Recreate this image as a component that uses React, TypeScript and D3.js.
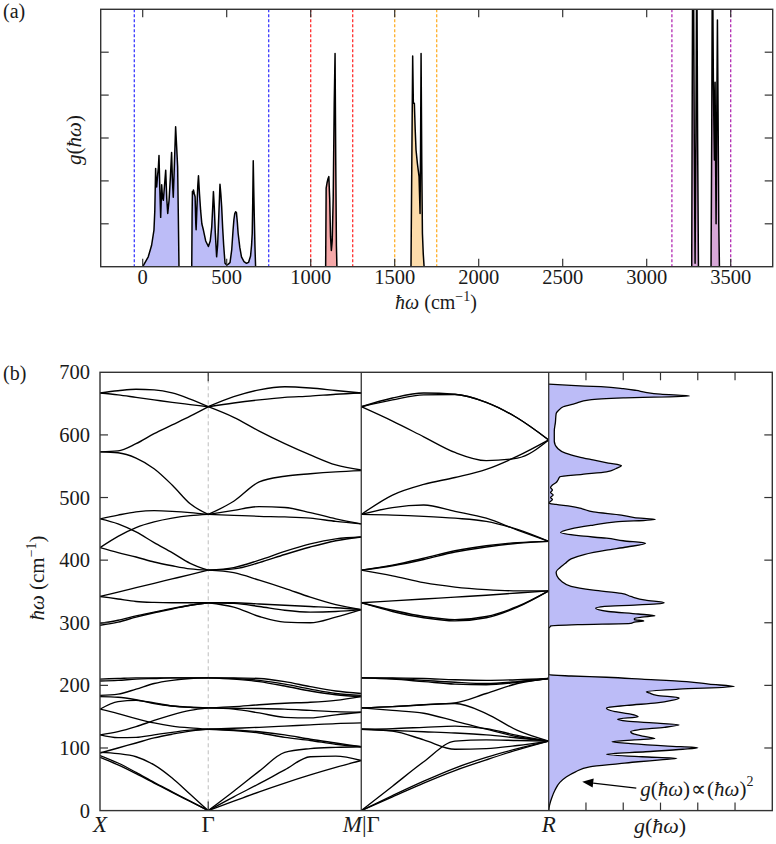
import React from "react";
import * as d3 from "d3";

// ---------------- Panel (a): full phonon DOS ----------------
const aXTicks = [0, 500, 1000, 1500, 2000, 2500, 3000, 3500];
const aYTicks = [1, 2, 3, 4, 5];
const windowLo = [-50, 1000, 1500, 3150];
const windowHi = [750, 1250, 1750, 3500];
const windowColors = ["#3a3aff", "#ff2e2e", "#ffb02a", "#b22ab2"];
const fillColors = ["#bcbcf7", "#f5a8a8", "#fcdcaa", "#d7a7d7"];

const aBlueW = [0, 33, 53, 67, 72, 77, 80, 83, 88, 93, 97, 102, 107, 110, 113, 118, 123, 130, 137, 143, 149, 153, 157, 165, 172, 177, 182, 188, 196, 202, 208, 212, 216,
  292, 294, 296, 299, 302, 307, 312, 316, 318, 323, 328, 332, 338, 345, 352, 361, 375, 391, 402, 411, 417, 421, 426, 432, 440, 446, 452, 457, 460, 465, 470, 476, 482, 490,
  500, 510, 520, 530, 538, 543, 548, 553, 558, 563, 568, 578, 588, 603, 618, 630, 642, 648, 652, 655, 658, 661, 664, 668, 672];
const aBlueG = [0, 0.23, 0.5, 0.85, 1.3, 2.29, 1.9, 1.86, 2.1, 2.3, 2.59, 1.8, 1.15, 1.5, 1.91, 1.6, 1.55, 1.9, 2.25, 1.6, 1.24, 1.4, 1.55, 2.1, 2.66, 2.0, 1.62, 2.3, 3.26, 2.8, 2.33, 1.2, 0,
  0, 1.2, 1.75, 1.7, 1.79, 1.7, 1.63, 1.0, 0.86, 1.4, 1.9, 2.12, 1.7, 1.3, 1.0, 0.86, 0.6, 0.47, 0.6, 0.93, 1.4, 1.75, 1.4, 0.8, 0.23, 0.5, 1.1, 1.6, 1.92, 1.7, 1.4, 0.9, 0.5, 0.08,
  0.04, 0.06, 0.1, 0.4, 0.86, 1.1, 1.24, 1.28, 1.26, 1.05, 0.78, 0.45, 0.23, 0.12, 0.08, 0.1, 0.25, 0.5, 0.78, 1.5, 2.47, 1.8, 1.2, 0.5, 0];
const aRedW = [1089, 1092, 1097, 1103, 1108, 1113, 1118, 1123, 1128, 1134, 1140, 1145, 1149, 1153, 1156];
const aRedG = [0, 1.83, 1.95, 2.05, 2.1, 1.6, 0.7, 0.38, 0.6, 1.6, 3.8, 4.97, 2.5, 0.5, 0];
const aOrangeW = [1597, 1602, 1607, 1611, 1617, 1622, 1627, 1635, 1645, 1651, 1654, 1657, 1661, 1665, 1670, 1675];
const aOrangeG = [0, 2.5, 4.91, 3.81, 3.81, 3.2, 2.72, 2.41, 2.1, 1.24, 2.8, 4.97, 2.5, 0.78, 0.3, 0];
const aPurpleW = [3268, 3271, 3274, 3278, 3283, 3288, 3293, 3298, 3303, 3308,
  3383, 3387, 3391, 3394, 3397, 3400, 3403, 3405, 3407, 3410, 3413, 3417, 3421, 3425, 3429, 3433];
const aPurpleG = [0, 4, 7.5, 7.5, 3, 0.08, 3, 7.5, 3, 0,
  0, 3, 7.5, 6, 4.27, 3.3, 2.49, 3.5, 4.3, 2.5, 1.0, 3.5, 5.75, 3.5, 1.0, 0];

// ---------------- Panel (b): dispersion + DOS ----------------
const bYTicks = [0, 100, 200, 300, 400, 500, 600, 700];
const segLengths = [0.5, 0.7071, 0.866]; // X-Γ, Γ-M, Γ-R (2π/a)
const kGrid = [0, 0.1667, 0.3333, 0.5, 0.6667, 0.8333, 1];

// X -> Γ
const bandsXG = [
  [667, 670.5, 673, 672, 667, 657, 645],
  [667, 664, 660, 656, 652, 648.5, 645],
  [573, 574.5, 586, 602, 616, 630, 645],
  [573, 571.5, 563, 546, 520, 490, 473],
  [466, 472, 477, 479, 478, 476, 473],
  [420, 438, 452, 461, 467, 471, 473],
  [466, 458, 445, 428, 412, 395, 384],
  [420, 412, 405, 397, 391, 386, 384],
  [342, 349, 356, 363, 370, 377, 384],
  [342, 338, 334, 332.5, 332, 332, 332],
  [299, 304, 311, 317, 323, 328, 332],
  [296, 301, 309, 316, 322, 328, 332],
  [210, 211, 212, 212, 212, 212, 212],
  [207, 208, 210, 211, 212, 212, 212],
  [184, 186, 194, 203, 208, 211, 212],
  [182, 181, 177, 171, 167, 165, 164],
  [162, 174, 176, 172, 167, 165, 164],
  [162, 155, 147, 140, 135, 132, 130],
  [121, 126, 134, 144, 153, 160, 164],
  [121, 116.5, 117, 121, 125, 128.5, 130],
  [92, 100, 108, 116, 122, 127, 130],
  [93, 91, 86, 73, 52, 26, 0],
  [88, 76, 61, 45, 30, 15, 0],
  [85, 73, 59, 44, 29, 14.5, 0],
];
// Γ -> M
const bandsGM = [
  [645, 661, 672, 677, 675, 671, 667],
  [645, 651, 656, 660, 662, 665, 667],
  [645, 628, 606, 586, 568, 552, 544],
  [473, 494, 525, 534, 538, 541, 543],
  [473, 479.5, 485.5, 484, 476, 466, 458],
  [473, 471.5, 470, 469, 467, 462, 458],
  [384, 388, 400, 414, 426, 434, 437],
  [384, 386, 396, 409, 421, 431, 437],
  [384, 380, 368, 355, 341, 329, 321],
  [332, 325, 310, 301, 300, 309, 321],
  [332, 331, 326, 320, 317, 318, 321],
  [332, 332, 330, 328, 326, 324, 321],
  [212, 212, 211, 206, 198, 191, 187],
  [212, 211, 208, 202, 194, 187, 184],
  [212, 210, 206, 199, 191, 185, 182],
  [164, 166, 169, 171.5, 173, 176, 182],
  [164, 162, 156, 149, 148, 153, 157],
  [130, 131.5, 133, 135, 137, 139, 140],
  [164, 163.5, 163, 162, 160, 158, 157],
  [130, 128, 124, 117, 112, 106, 102],
  [130, 129, 126, 121, 114, 108, 102],
  [0, 31, 63, 93, 99, 101, 102],
  [0, 22, 43, 65, 86, 87, 80],
  [0, 15, 30, 44, 57, 69, 80],
];
// Γ -> R
const bandsGR = [
  [645, 659, 667, 665, 652, 627, 592],
  [645, 656, 664, 664.5, 652, 627, 592],
  [645, 622, 597, 572, 559, 563, 592],
  [473, 504, 521, 532, 545, 566, 592],
  [473, 484, 488, 478, 467, 448, 430],
  [473, 472, 470, 467, 462, 449, 430],
  [384, 392, 403, 415, 423, 428, 430],
  [384, 391, 401, 413, 421, 427, 430],
  [384, 375, 364, 357, 353, 351, 351],
  [332, 335, 338, 341, 344, 347.5, 351],
  [332, 320, 310, 305, 310, 326, 351],
  [332, 318, 308, 303, 308, 325, 351],
  [212, 212, 211, 209, 208, 209, 211],
  [212, 211, 208, 205, 203, 206, 211],
  [212, 210, 206, 202, 201, 205, 211],
  [164, 166, 169, 172, 187, 203, 211],
  [164, 160, 155.5, 143, 130, 118, 111],
  [164, 166, 169, 171, 155, 128, 111],
  [130, 131, 133, 135, 131, 120, 111],
  [130, 127, 113, 98, 99, 104, 111],
  [130, 128, 126, 124, 121, 116, 111],
  [0, 39, 78, 111, 113, 112, 111],
  [0, 24, 47, 68, 85, 99, 111],
  [0, 22, 44, 64, 81, 97, 111],
];

// DOS of panel (b)
const dosW = [0, 8, 20, 33, 45, 54, 62, 70, 75, 78, 81, 83.5, 86, 90, 94, 98, 100.5, 103, 107, 110, 113, 115, 118, 122, 126, 129, 133, 137, 140, 143, 146, 150, 154, 158, 161, 164, 168, 172, 176, 180, 184, 188, 190, 194, 198, 202, 206, 210, 213, 215, 217,
  291, 293, 295, 297, 299, 301, 303, 305, 307, 309, 311, 314, 318, 323, 326, 328, 330, 332, 336, 342, 347, 352, 358, 366, 375, 381, 388, 395, 402, 409, 416, 421, 427, 431, 435, 439, 444, 450, 456, 461, 465, 468, 472, 477, 482, 486, 489, 491,
  494, 497, 500, 504, 508, 512, 516, 520, 524, 528, 533, 537, 541, 546, 551, 555, 560, 565, 571, 578, 590, 606, 620, 634, 640, 645, 650, 656, 659, 662, 665, 668, 671, 674, 677, 679, 681];
const dosG = [0, 0.02, 0.08, 0.17, 0.3, 0.48, 0.72, 1.1, 1.9, 2.4, 3.0, 3.44, 2.5, 1.55, 2.6, 3.6, 4.0, 3.2, 2.2, 1.7, 2.3, 2.85, 2.6, 2.3, 2.2, 2.4, 3.1, 3.5, 2.8, 2.1, 1.85, 2.4, 2.2, 1.8, 1.6, 1.55, 2.1, 2.9, 3.3, 3.5, 2.9, 2.7, 2.62, 3.5, 4.98, 4.3, 3.7, 2.5, 1.55, 0.6, 0,
  0, 0.03, 0.06, 0.8, 2.2, 2.3, 2.55, 2.3, 2.3, 2.5, 2.85, 2.4, 1.6, 1.26, 1.5, 2.3, 2.9, 3.1, 2.6, 2.2, 1.95, 1.2, 0.6, 0.35, 0.22, 0.2, 0.3, 0.45, 0.6, 0.95, 1.55, 2.1, 2.6, 2.0, 1.55, 0.8, 0.32, 0.6, 1.2, 1.8, 2.86, 2.3, 1.95, 1.2, 0.9, 0.6, 0.2, 0,
  0.05, 0.1, 0.05, 0.12, 0.05, 0.1, 0.05, 0.1, 0.2, 0.25, 0.3, 0.9, 1.55, 1.8, 1.95, 1.6, 1.19, 0.8, 0.45, 0.25, 0.15, 0.15, 0.18, 0.2, 0.28, 0.39, 0.7, 1.1, 2.0, 3.78, 3.0, 2.6, 2.35, 2.0, 1.4, 0.6, 0];
const dosTicks = [1, 2, 3, 4, 5];

const SERIF = "'Liberation Serif', 'Times New Roman', serif";
const INK = "#1a1a1a";
const FRAME = "#333";

function Ghw() {
  return (
    <>
      <tspan fontStyle="italic">g</tspan>
      <tspan>(</tspan>
      <tspan fontStyle="italic">ħω</tspan>
      <tspan>)</tspan>
    </>
  );
}

export default function App() {
  // Panel (a) geometry
  const aL = 100.7, aR = 772.7, aT = 9.3, aB = 266.7;
  const xA = d3.scaleLinear().domain([-250, 3750]).range([aL, aR]);
  const yA = d3.scaleLinear().domain([0, 6]).range([aB, aT]);

  // Panel (b) geometry
  const bL = 100, bR = 548.7, bRR = 772.3, bT = 372.3, bB = 810.6;
  const kTotal = segLengths[0] + segLengths[1] + segLengths[2];
  const kx = d3.scaleLinear().domain([0, kTotal]).range([bL, bR]);
  const yB = d3.scaleLinear().domain([0, 700]).range([bB, bT]);
  const xD = d3.scaleLinear().domain([0, 6]).range([bR, bRR]);

  const kStarts = [0, segLengths[0], segLengths[0] + segLengths[1]];
  const kG = segLengths[0];
  const kM = segLengths[0] + segLengths[1];

  const bandLine = d3.line<[number, number]>().curve(d3.curveMonotoneX);
  const segPath = (vals: number[], s: number) =>
    bandLine(kGrid.map((t, i) => [kx(kStarts[s] + t * segLengths[s]), yB(vals[i])] as [number, number])) || "";

  const regionsA = [
    { w: aBlueW, g: aBlueG, c: fillColors[0] },
    { w: aRedW, g: aRedG, c: fillColors[1] },
    { w: aOrangeW, g: aOrangeG, c: fillColors[2] },
    { w: aPurpleW, g: aPurpleG, c: fillColors[3] },
  ];

  const makeAreaA = (w: number[], g: number[]) =>
    d3
      .area<number>()
      .x((_, i) => xA(w[i]))
      .y0(yA(0))
      .y1((_, i) => yA(g[i]))
      .curve(d3.curveLinear)(g) || "";
  const makeLineA = (w: number[], g: number[]) =>
    d3
      .line<number>()
      .x((_, i) => xA(w[i]))
      .y((_, i) => yA(g[i]))
      .curve(d3.curveLinear)(g) || "";

  const dosArea =
    d3
      .area<number>()
      .y((_, i) => yB(dosW[i]))
      .x0(xD(0))
      .x1((_, i) => xD(dosG[i]))
      .curve(d3.curveMonotoneY)(dosG) || "";
  const dosLine =
    d3
      .line<number>()
      .y((_, i) => yB(dosW[i]))
      .x((_, i) => xD(dosG[i]))
      .curve(d3.curveMonotoneY)(dosG) || "";

  // arrow annotation
  const arrowTip: [number, number] = [xD(0.9), yB(46)];
  const arrowTail: [number, number] = [xD(2.35), yB(36)];
  const ang = Math.atan2(arrowTail[1] - arrowTip[1], arrowTail[0] - arrowTip[0]);
  const hl = 11, hw = 4.5;
  const bx = arrowTip[0] + hl * Math.cos(ang), by = arrowTip[1] + hl * Math.sin(ang);
  const head = [
    arrowTip,
    [bx - hw * Math.sin(ang), by + hw * Math.cos(ang)],
    [bx + hw * Math.sin(ang), by - hw * Math.cos(ang)],
  ];

  const tickLen = 8;

  return (
    <svg
      width={776}
      height={844}
      viewBox="0 0 776 844"
      style={{ position: "absolute", left: 0, top: 0, background: "#fff" }}
      fontFamily={SERIF}
    >
      <defs>
        <clipPath id="clipA">
          <rect x={aL} y={aT} width={aR - aL} height={aB - aT} />
        </clipPath>
        <clipPath id="clipB">
          <rect x={bL} y={bT} width={bRR - bL} height={bB - bT} />
        </clipPath>
      </defs>

      {/* ================= Panel (a) ================= */}
      <text x={3} y={18} fontSize={20} fill={INK}>(a)</text>
      <g clipPath="url(#clipA)">
        {windowLo.map((lo, i) => (
          <g key={"w" + i}>
            {[lo, windowHi[i]].map((v, j) => (
              <line key={j} x1={xA(v)} x2={xA(v)} y1={aT} y2={aB} stroke={windowColors[i]} strokeWidth={1.3} strokeDasharray="3,2" />
            ))}
          </g>
        ))}
        {regionsA.map((r, i) => (
          <path key={"fa" + i} d={makeAreaA(r.w, r.g)} fill={r.c} stroke="none" />
        ))}
        {regionsA.map((r, i) => (
          <path key={"la" + i} d={makeLineA(r.w, r.g)} fill="none" stroke="#000" strokeWidth={1.5} strokeLinejoin="round" />
        ))}
      </g>
      <rect x={aL} y={aT} width={aR - aL} height={aB - aT} fill="none" stroke={FRAME} strokeWidth={1.4} />
      {aXTicks.map((t) => (
        <g key={"ax" + t}>
          <line x1={xA(t)} x2={xA(t)} y1={aB} y2={aB - tickLen} stroke={FRAME} strokeWidth={1.2} />
          <line x1={xA(t)} x2={xA(t)} y1={aT} y2={aT + tickLen} stroke={FRAME} strokeWidth={1.2} />
          <text x={xA(t)} y={284} fontSize={20.5} textAnchor="middle" fill={INK}>{t}</text>
        </g>
      ))}
      {aYTicks.map((t) => (
        <g key={"ay" + t}>
          <line x1={aL} x2={aL + tickLen} y1={yA(t)} y2={yA(t)} stroke={FRAME} strokeWidth={1.2} />
          <line x1={aR} x2={aR - tickLen} y1={yA(t)} y2={yA(t)} stroke={FRAME} strokeWidth={1.2} />
        </g>
      ))}
      <text transform={`translate(81,140) rotate(-90)`} fontSize={21} textAnchor="middle" fill={INK}>
        <Ghw />
      </text>
      <text x={436} y={309} fontSize={20} textAnchor="middle" fill={INK}>
        <tspan fontStyle="italic">ħω</tspan>
        <tspan> (cm</tspan>
        <tspan dy={-8} fontSize={14}>−1</tspan>
        <tspan dy={8}>)</tspan>
      </text>

      {/* ================= Panel (b) ================= */}
      <text x={3} y={380} fontSize={20} fill={INK}>(b)</text>

      {/* Γ dashed guide */}
      <line x1={kx(kG)} x2={kx(kG)} y1={bT} y2={bB} stroke="#bdbdbd" strokeWidth={1} strokeDasharray="4,3" />

      {/* DOS */}
      <g clipPath="url(#clipB)">
        <path d={dosArea} fill={fillColors[0]} stroke="none" />
        <path d={dosLine} fill="none" stroke="#000" strokeWidth={1.3} strokeLinejoin="round" />
      </g>

      {/* bands */}
      <g clipPath="url(#clipB)" fill="none" stroke="#000" strokeWidth={1.35}>
        {bandsXG.map((b, i) => (
          <path key={"xg" + i} d={segPath(b, 0)} />
        ))}
        {bandsGM.map((b, i) => (
          <path key={"gm" + i} d={segPath(b, 1)} />
        ))}
        {bandsGR.map((b, i) => (
          <path key={"gr" + i} d={segPath(b, 2)} />
        ))}
      </g>

      {/* frames */}
      <rect x={bL} y={bT} width={bRR - bL} height={bB - bT} fill="none" stroke={FRAME} strokeWidth={1.4} />
      <line x1={kx(kM)} x2={kx(kM)} y1={bT} y2={bB} stroke={FRAME} strokeWidth={1.3} />
      <line x1={bR} x2={bR} y1={bT} y2={bB} stroke={FRAME} strokeWidth={1.3} />

      {/* Γ ticks */}
      <line x1={kx(kG)} x2={kx(kG)} y1={bT} y2={bT + 9} stroke={FRAME} strokeWidth={1.2} />
      <line x1={kx(kG)} x2={kx(kG)} y1={bB} y2={bB - 9} stroke={FRAME} strokeWidth={1.2} />

      {/* y ticks */}
      {bYTicks.map((t) => (
        <g key={"by" + t}>
          {t > 0 && t < 700 && (
            <>
              <line x1={bL} x2={bL + tickLen} y1={yB(t)} y2={yB(t)} stroke={FRAME} strokeWidth={1.2} />
              <line x1={bRR} x2={bRR - tickLen} y1={yB(t)} y2={yB(t)} stroke={FRAME} strokeWidth={1.2} />
            </>
          )}
          <text x={90} y={yB(t) + 7} fontSize={20.5} textAnchor="end" fill={INK}>{t}</text>
        </g>
      ))}
      {dosTicks.map((t) => (
        <g key={"dt" + t}>
          <line x1={xD(t)} x2={xD(t)} y1={bT} y2={bT + tickLen} stroke={FRAME} strokeWidth={1.2} />
          <line x1={xD(t)} x2={xD(t)} y1={bB} y2={bB - tickLen} stroke={FRAME} strokeWidth={1.2} />
        </g>
      ))}

      {/* y label */}
      <text transform={`translate(44,578) rotate(-90)`} fontSize={21} textAnchor="middle" fill={INK}>
        <tspan fontStyle="italic">ħω</tspan>
        <tspan> (cm</tspan>
        <tspan dy={-8} fontSize={14}>−1</tspan>
        <tspan dy={8}>)</tspan>
      </text>

      {/* k labels */}
      <text x={kx(0)} y={832} fontSize={23} textAnchor="middle" fontStyle="italic" fill={INK}>X</text>
      <text x={kx(kG)} y={832} fontSize={23} textAnchor="middle" fill={INK}>Γ</text>
      <text x={kx(kM)} y={832} fontSize={23} textAnchor="middle" fill={INK}>
        <tspan fontStyle="italic">M</tspan>|Γ
      </text>
      <text x={kx(kTotal)} y={832} fontSize={23} textAnchor="middle" fontStyle="italic" fill={INK}>R</text>
      <text x={660} y={833} fontSize={22} textAnchor="middle" fill={INK}>
        <Ghw />
      </text>

      {/* annotation */}
      <line x1={arrowTail[0]} y1={arrowTail[1]} x2={bx} y2={by} stroke="#000" strokeWidth={1.3} />
      <polygon points={head.map((p) => p.join(",")).join(" ")} fill="#000" />
      <text x={arrowTail[0] + 4} y={796} fontSize={21} fill={INK}>
        <Ghw />
        <tspan dx={1}>∝</tspan>
        <tspan dx={1}>(</tspan>
        <tspan fontStyle="italic">ħω</tspan>
        <tspan>)</tspan>
        <tspan dy={-10} fontSize={14}>2</tspan>
      </text>
    </svg>
  );
}
